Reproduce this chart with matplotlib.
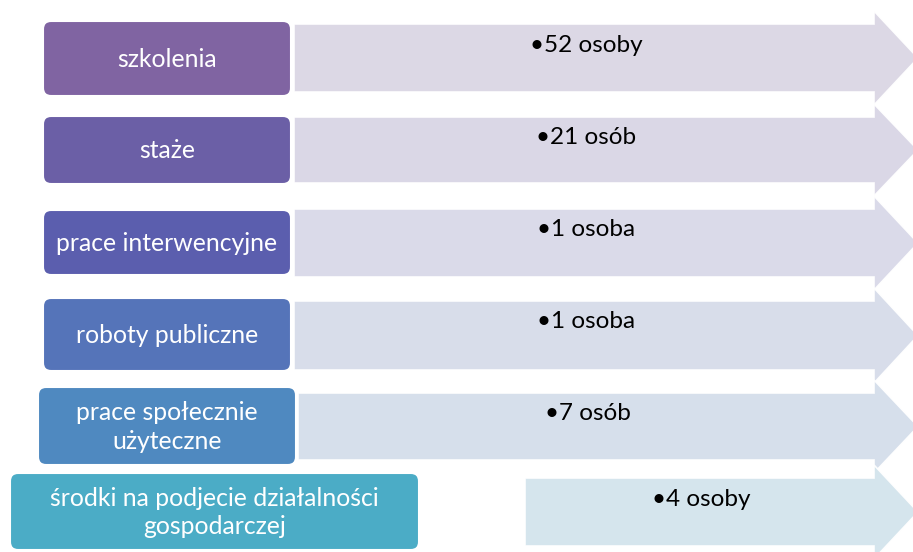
import matplotlib.pyplot as plt
from matplotlib.patches import FancyBboxPatch, Polygon

plt.rcParams['font.family'] = ['Lato', 'DejaVu Sans']

# data
categories = ['szkolenia', 'staże', 'prace interwencyjne', 'roboty publiczne',
              'prace społecznie\nużyteczne', 'środki na podjecie działalności\ngospodarczej']
counts = ['•52 osoby', '•21 osób', '•1 osoba', '•1 osoba', '•7 osób', '•4 osoby']

# layout (pixels, top-left origin)
box_x = [43, 43, 43, 43, 38, 10]
box_w = [248, 248, 248, 248, 258, 409]
box_top = [21, 116, 210, 298, 387, 473]
box_bot = [96, 184, 275, 371, 465, 550]
arr_x = [294, 294, 294, 294, 298, 525]
arr_top = [24, 117, 209, 301, 393, 478]
arr_bot = [92, 183, 277, 370, 460, 546]
box_colors = ['#8064A2', '#6B5FA6', '#5B5EAE', '#5574B9', '#4F89C0', '#4BACC6']
arr_colors = ['#DAD6E4', '#D8D5E5', '#D8D8E8', '#D6DCE9', '#D4DEEA', '#D3E4EC']

W, H = 913, 552
fig = plt.figure(figsize=(W / 100, H / 100), dpi=100)
ax = fig.add_axes([0, 0, 1, 1])
ax.set_xlim(0, W)
ax.set_ylim(H, 0)
ax.axis('off')

head_x = 874
tip_x = 918
for i, (cat, cnt) in enumerate(zip(categories, counts)):
    # arrow
    t, b = arr_top[i], arr_bot[i]
    mid = (t + b) / 2
    ext = 13
    pts = [(arr_x[i], t), (head_x, t), (head_x, t - ext), (tip_x, mid),
           (head_x, b + ext), (head_x, b), (arr_x[i], b)]
    ax.add_patch(Polygon(pts, closed=True, facecolor=arr_colors[i],
                         edgecolor='white', linewidth=1.2, alpha=0.95, zorder=1))
    # box
    bt, bb = box_top[i], box_bot[i]
    ax.add_patch(FancyBboxPatch((box_x[i], bt), box_w[i], bb - bt,
                                boxstyle='round,pad=0,rounding_size=8',
                                facecolor=box_colors[i], edgecolor='white',
                                linewidth=1.5, zorder=2))
    ax.text(box_x[i] + box_w[i] / 2, (bt + bb) / 2 + 1, cat, color='white',
            fontsize=17.8, ha='center', va='center', linespacing=1.3, zorder=3)
    # count text, centered in arrow body
    cx = (arr_x[i] + head_x) / 2 + 2
    ax.text(cx, t + 21, cnt, color='black', fontsize=17.5,
            ha='center', va='center', zorder=3)

fig.savefig('out.png', dpi=100)
